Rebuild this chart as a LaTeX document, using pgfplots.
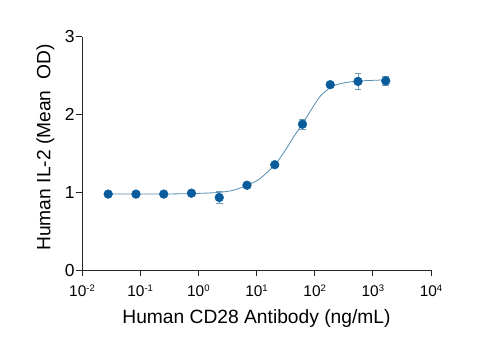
\documentclass[border=0pt]{standalone}
\usepackage{fontspec}
\setmainfont{Liberation Sans}
\usepackage{pgfplots}
\pgfplotsset{compat=1.18}
\definecolor{ptblue}{RGB}{8,92,156}
\definecolor{curvecol}{RGB}{84,140,176}
\definecolor{errcol}{RGB}{110,155,185}
\newcommand{\sups}[1]{\raisebox{4.6pt}{\fontsize{9.5}{9.5}\selectfont #1}}
\begin{document}
\begin{tikzpicture}
\useasboundingbox (0,0) rectangle (500bp,350bp);
\begin{axis}[
  at={(82bp,80bp)}, anchor=south west,
  scale only axis, width=349bp, height=233.3bp,
  xmode=log, xmin=0.01, xmax=10000, ymin=0, ymax=3,
  axis x line*=bottom, axis y line*=left,
  axis line style={line width=0.9bp, black!85},
  xtick={0.01,0.1,1,10,100,1000,10000},
  xticklabels={10\sups{-2},10\sups{-1},10\sups{0},10\sups{1},10\sups{2},10\sups{3},10\sups{4}},
  ytick={0,1,2,3},
  minor x tick num=0, xminorticks=false,
  tick align=outside, major tick length=6.5bp,
  tick style={line width=0.9bp, black!85},
  xticklabel style={font=\fontsize{15.5}{17}\selectfont, yshift=-5bp},
  yticklabel style={font=\fontsize{17.5}{19}\selectfont, xshift=2.5bp},
  /pgf/number format/assume math mode=true,
  label style={font=\fontsize{19.3}{22}\selectfont},
  xlabel={Human CD28 Antibody (ng/mL)},
  ylabel={Human IL-2 (Mean\ \ OD)},
  xlabel style={at={(axis description cs:0.5,0)}, anchor=center, yshift=-48.3bp},
  ylabel style={at={(axis description cs:-0.1046,0.525)}, anchor=center},
  clip=false,
]
\addplot[curvecol, line width=0.8bp, smooth, tension=0.4] coordinates {
(0.0282,0.977) (0.316,0.978) (1,0.985) (2.30,0.998) (3.98,1.025) (6.92,1.089)
(11.27,1.171) (20.7,1.352) (32.5,1.559) (45.2,1.731) (62.1,1.882) (88.1,2.066)
(122.5,2.228) (189.2,2.35) (289.7,2.40) (559.8,2.43) (1675,2.445)
};
\addplot[only marks, mark=*, mark size=4.4bp, ptblue, mark options={draw=ptblue, fill=ptblue},
  error bars/.cd, y dir=both, y explicit,
  error bar style={errcol, line width=0.9bp},
  error mark options={rotate=90, mark size=3.3bp, errcol, line width=0.9bp}]
table[x=x, y=y, y error=e] {
x y e
0.0282 0.976 0
0.0847 0.976 0
0.254 0.976 0
0.762 0.988 0
2.29 0.932 0.077
6.86 1.090 0
20.6 1.354 0
61.7 1.875 0.067
185.2 2.383 0
555.6 2.425 0.10
1667 2.432 0.058
};
\end{axis}
\end{tikzpicture}
\end{document}
